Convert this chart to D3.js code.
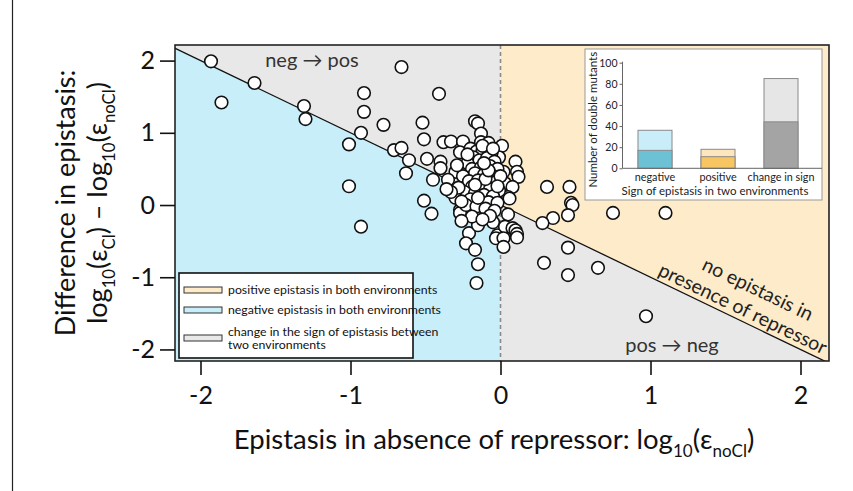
<!DOCTYPE html>
<html>
<head>
<meta charset="utf-8">
<script src="https://cdn.jsdelivr.net/npm/d3@7"></script>
<style>
  body { margin: 0; background: #fff; }
  svg { display: block; font-family: Lato, "Open Sans", sans-serif; }
</style>
</head>
<body>
<svg id="chart" width="853" height="491"></svg>
<script>
// --- data ---------------------------------------------------------------
// [log10(eps_noCl), log10(eps_Cl) - log10(eps_noCl)]
const scatterPoints = [
  [-1.93, 1.99], [-1.86, 1.42], [-1.64, 1.69], [-1.31, 1.37], [-1.30, 1.19],
  [-0.91, 1.55], [-0.91, 1.29], [-0.78, 1.11], [-0.93, 1.00], [-1.01, 0.84],
  [-0.71, 0.76], [-0.66, 0.79], [-0.66, 1.91], [-0.41, 1.54], [-0.52, 1.14],
  [-0.51, 0.91], [-0.17, 1.16], [-0.15, 1.13], [-0.13, 0.99], [-0.38, 0.87],
  [-0.33, 0.88], [-0.25, 0.88], [-0.13, 0.87], [-0.08, 0.86], [0.01, 0.82],
  [-0.61, 0.62], [-0.49, 0.64], [-0.40, 0.60], [-0.40, 0.51], [-0.30, 0.46],
  [-0.27, 0.73], [-0.23, 0.53], [-0.63, 0.44], [-0.45, 0.35], [-0.35, 0.35],
  [-1.01, 0.26], [-0.93, -0.30], [-0.51, 0.06], [-0.46, -0.12],
  [-0.01, 0.66], [0.02, 0.46], [0.10, 0.60], [0.11, 0.46], [0.12, 0.39],
  [0.03, 0.30], [0.08, 0.25], [0.05, 0.11], [0.06, 0.09], [0.31, 0.25],
  [0.46, 0.25], [0.47, 0.03], [0.48, 0.00], [0.45, -0.14], [0.35, -0.18],
  [0.28, -0.25], [0.75, -0.11], [1.10, -0.11], [0.45, -0.59], [0.29, -0.80],
  [0.45, -0.97], [0.65, -0.87], [0.97, -1.54],
  [-0.27, -0.07], [-0.27, -0.11], [-0.21, -0.39], [-0.05, -0.24], [-0.02, -0.42],
  [0.05, -0.13], [0.03, -0.30], [0.08, -0.32], [0.10, -0.35], [0.11, -0.40],
  [0.11, -0.45], [-0.15, -0.28], [-0.23, -0.53], [-0.17, -0.62], [-0.15, -0.82],
  [-0.16, -1.08], [-0.03, -0.46], [0.02, -0.46], [0.02, -0.58],
  [-0.20, 0.78], [-0.16, 0.74], [-0.12, 0.76], [-0.06, 0.72], [-0.18, 0.66],
  [-0.14, 0.62], [-0.09, 0.65], [-0.04, 0.60], [-0.22, 0.58], [-0.19, 0.50],
  [-0.13, 0.52], [-0.07, 0.54], [-0.02, 0.50], [-0.17, 0.44], [-0.11, 0.42],
  [-0.05, 0.40], [-0.25, 0.40], [-0.21, 0.33], [-0.15, 0.34], [-0.09, 0.30],
  [-0.03, 0.32], [-0.19, 0.25], [-0.13, 0.24], [-0.07, 0.22], [-0.01, 0.20],
  [-0.24, 0.18], [-0.17, 0.16], [-0.11, 0.14], [-0.05, 0.12], [-0.20, 0.08],
  [-0.14, 0.06], [-0.08, 0.04], [-0.02, 0.03], [-0.23, 0.00], [-0.16, -0.02],
  [-0.10, -0.05], [-0.04, -0.08], [-0.30, 0.10], [-0.28, 0.24], [-0.33, 0.18],
  [-0.12, 0.82], [-0.22, 0.70], [-0.05, 0.78], [-0.10, 0.36], [-0.15, 0.10],
  [-0.07, -0.15], [-0.19, -0.16], [-0.12, -0.20], [-0.26, -0.22], [0.00, 0.40],
  [-0.36, 0.22], [-0.29, 0.55], [-0.02, 0.26], [-0.17, 0.28], [-0.08, 0.48],
  [-0.26, 0.05], [-0.11, 0.58]
];

const axisTicks = [-2, -1, 0, 1, 2];

const legendLabels = [
  ["positive epistasis in both environments"],
  ["negative epistasis in both environments"],
  ["change in the sign of epistasis between", "two environments"]
];

const insetCategories = ["negative", "positive", "change in sign"];
const insetTotals = [36, 18, 85];
const insetLower = [17, 11, 44];
const insetTicks = [0, 20, 40, 60, 80, 100];

// --- setup --------------------------------------------------------------
const svg = d3.select("#chart");

const colPos = "#fdebc9";
const colNeg = "#c8eef9";
const colChange = "#e8e8e8";

const plot = { left: 175, right: 829, top: 45, bottom: 361 };

const x = d3.scaleLinear().domain([-2.17, 2.19]).range([plot.left, plot.right]);
const y = d3.scaleLinear().domain([-2.16, 2.216]).range([plot.bottom, plot.top]);

// frame line at the left of the figure
svg.append("line")
  .attr("x1", 12.5).attr("x2", 12.5)
  .attr("y1", 0).attr("y2", 491)
  .attr("stroke", "#222").attr("stroke-width", 1.2);

svg.append("clipPath").attr("id", "plot-clip")
  .append("rect")
  .attr("x", plot.left).attr("y", plot.top)
  .attr("width", plot.right - plot.left)
  .attr("height", plot.bottom - plot.top);

const area = svg.append("g").attr("clip-path", "url(#plot-clip)");

// regions (in data coordinates, clipped to the plot)
const regions = [
  { fill: colNeg, pts: [[-10, -10], [0, -10], [0, 0], [-10, 10]] },
  { fill: colChange, pts: [[-10, 10], [0, 0], [0, 10]] },
  { fill: colPos, pts: [[0, 0], [10, -10], [10, 10], [0, 10]] },
  { fill: colChange, pts: [[0, 0], [0, -10], [10, -10]] }
];

area.selectAll(".region")
  .data(regions)
  .enter()
  .append("polygon")
  .attr("class", "region")
  .attr("fill", d => d.fill)
  .attr("points", d => d.pts.map(p => [x(p[0]), y(p[1])].join(",")).join(" "));

// vertical dashed line at zero
area.append("line")
  .attr("x1", x(0)).attr("x2", x(0))
  .attr("y1", plot.top).attr("y2", plot.bottom)
  .attr("stroke", "#8a8a8a")
  .attr("stroke-width", 1.6)
  .attr("stroke-dasharray", "4,3");

// no epistasis with repressor: y = -x
area.append("line")
  .attr("x1", x(-3)).attr("y1", y(3))
  .attr("x2", x(3)).attr("y2", y(-3))
  .attr("stroke", "#111")
  .attr("stroke-width", 1.3);

// points
area.selectAll(".pt")
  .data(scatterPoints)
  .enter()
  .append("circle")
  .attr("class", "pt")
  .attr("cx", d => x(d[0]))
  .attr("cy", d => y(d[1]))
  .attr("r", 6.3)
  .attr("fill", "#fff")
  .attr("stroke", "#111")
  .attr("stroke-width", 1.6);

// region annotations
const angle = Math.atan2(y(-1) - y(0), x(1) - x(0)) * 180 / Math.PI;

svg.append("text")
  .attr("x", 312).attr("y", 67)
  .attr("text-anchor", "middle")
  .attr("font-size", 20)
  .attr("fill", "#333")
  .text("neg \u2192 pos");

svg.append("text")
  .attr("x", 672).attr("y", 352)
  .attr("text-anchor", "middle")
  .attr("font-size", 20)
  .attr("fill", "#333")
  .text("pos \u2192 neg");

const diagLabel = svg.append("g")
  .attr("transform", `translate(${x(1.6)},${y(-1.6)}) rotate(${angle})`);

diagLabel.append("text")
  .attr("x", 2).attr("y", -29)
  .attr("text-anchor", "middle")
  .attr("font-size", 19.5)
  .attr("fill", "#222")
  .text("no epistasis in");

diagLabel.append("text")
  .attr("x", -3).attr("y", -5)
  .attr("text-anchor", "middle")
  .attr("font-size", 19.5)
  .attr("fill", "#222")
  .text("presence of repressor");

// plot border
svg.append("rect")
  .attr("x", plot.left).attr("y", plot.top)
  .attr("width", plot.right - plot.left)
  .attr("height", plot.bottom - plot.top)
  .attr("fill", "none")
  .attr("stroke", "#222")
  .attr("stroke-width", 1.6);

// axes
const xAxis = svg.append("g")
  .attr("transform", `translate(0,${plot.bottom})`)
  .call(d3.axisBottom(x).tickValues(axisTicks).tickFormat(d => String(d)).tickSize(14).tickPadding(11));

const yAxis = svg.append("g")
  .attr("transform", `translate(${plot.left},0)`)
  .call(d3.axisLeft(y).tickValues(axisTicks).tickFormat(d => String(d)).tickSize(15).tickPadding(5));

[xAxis, yAxis].forEach(a => {
  a.select(".domain").remove();
  a.selectAll(".tick line").attr("stroke", "#111").attr("stroke-width", 1.6);
  a.selectAll(".tick text")
    .attr("font-family", "Lato, 'Open Sans', sans-serif")
    .attr("font-size", 25)
    .attr("fill", "#111");
});

// text with subscripts: parts = [[string, isSub], ...]
function richText(sel, parts, size) {
  const subSize = size * 0.62;
  let down = false;
  parts.forEach(([s, sub]) => {
    const t = sel.append("tspan").text(s);
    if (sub) {
      t.attr("font-size", subSize).attr("dy", down ? 0 : size * 0.28);
      down = true;
    } else {
      t.attr("font-size", size).attr("dy", down ? -size * 0.28 : 0);
      down = false;
    }
  });
}

// x title
const xTitle = svg.append("text")
  .attr("x", 494).attr("y", 449)
  .attr("text-anchor", "middle")
  .attr("fill", "#111");
richText(xTitle, [
  ["Epistasis in absence of repressor: log", false], ["10", true],
  ["(\u03b5", false], ["noCl", true], [")", false]
], 27.5);

// y title (two lines)
const yTitle = svg.append("g")
  .attr("transform", `translate(0,${y(0) - 2}) rotate(-90)`);

yTitle.append("text")
  .attr("x", 0).attr("y", 75)
  .attr("text-anchor", "middle")
  .attr("font-size", 27)
  .attr("fill", "#111")
  .text("Difference in epistasis:");

const yTitle2 = yTitle.append("text")
  .attr("x", 0).attr("y", 107)
  .attr("text-anchor", "middle")
  .attr("fill", "#111");
richText(yTitle2, [
  ["log", false], ["10", true], ["(\u03b5", false], ["Cl", true],
  [") \u2013 log", false], ["10", true], ["(\u03b5", false], ["noCl", true], [")", false]
], 27);

// --- legend ---------------------------------------------------------------
const legendColors = [colPos, colNeg, colChange];
const legend = svg.append("g").attr("transform", "translate(179,273)");

legend.append("rect")
  .attr("width", 234).attr("height", 85)
  .attr("fill", "#fff")
  .attr("stroke", "#111")
  .attr("stroke-width", 1.6);

const legendRows = legend.selectAll(".lg")
  .data(legendLabels)
  .enter()
  .append("g")
  .attr("class", "lg")
  .attr("transform", (d, i) => `translate(0,${[17, 37, 65][i]})`);

legendRows.append("rect")
  .attr("x", 5).attr("y", -3)
  .attr("width", 38).attr("height", 6)
  .attr("fill", (d, i) => legendColors[i])
  .attr("stroke", "#333")
  .attr("stroke-width", 1);

legendRows.append("text")
  .attr("x", 49)
  .attr("font-size", 12.3)
  .attr("fill", "#111")
  .each(function (d) {
    const t = d3.select(this);
    const off = d.length > 1 ? -6.5 : 0;
    d.forEach((line, j) => {
      t.append("tspan")
        .attr("x", 49)
        .attr("y", off + j * 13.5 + 4)
        .text(line);
    });
  });

// --- inset bar chart -------------------------------------------------------
const inset = svg.append("g");
inset.append("rect")
  .attr("x", 585).attr("y", 49)
  .attr("width", 237).attr("height", 151)
  .attr("fill", "#fff")
  .attr("stroke", "#999")
  .attr("stroke-width", 1);

const ix = d3.scaleBand()
  .domain(insetCategories)
  .range([623.5, 812.5])
  .paddingInner(0.46)
  .paddingOuter(0.23);

const iy = d3.scaleLinear().domain([0, 100]).range([168.3, 62.7]);

const insetLight = ["#c9eef9", "#fde6bd", "#e6e6e6"];
const insetDark = ["#6cc1d5", "#f7c561", "#a4a4a4"];

inset.selectAll(".bar-total")
  .data(insetCategories)
  .enter()
  .append("rect")
  .attr("x", d => ix(d))
  .attr("y", (d, i) => iy(insetTotals[i]))
  .attr("width", ix.bandwidth())
  .attr("height", (d, i) => iy(0) - iy(insetTotals[i]))
  .attr("fill", (d, i) => insetLight[i])
  .attr("stroke", "#8a8a8a")
  .attr("stroke-width", 1);

inset.selectAll(".bar-lower")
  .data(insetCategories)
  .enter()
  .append("rect")
  .attr("x", d => ix(d))
  .attr("y", (d, i) => iy(insetLower[i]))
  .attr("width", ix.bandwidth())
  .attr("height", (d, i) => iy(0) - iy(insetLower[i]))
  .attr("fill", (d, i) => insetDark[i])
  .attr("stroke", "#8a8a8a")
  .attr("stroke-width", 1);

const iyAxis = inset.append("g")
  .attr("transform", "translate(622.5,0)")
  .call(d3.axisLeft(iy).tickValues(insetTicks).tickSize(3).tickPadding(2));
iyAxis.select(".domain").attr("stroke", "#666").attr("d", `M0,${iy(100) - 1}V${iy(0)}`);
iyAxis.selectAll(".tick line").attr("stroke", "#666");
iyAxis.selectAll(".tick text")
  .attr("font-family", "Lato, 'Open Sans', sans-serif")
  .attr("font-size", 10.5)
  .attr("fill", "#222");

inset.append("line")
  .attr("x1", 622.5).attr("x2", 822)
  .attr("y1", iy(0)).attr("y2", iy(0))
  .attr("stroke", "#666").attr("stroke-width", 1);

inset.selectAll(".cat")
  .data(insetCategories)
  .enter()
  .append("text")
  .attr("x", d => ix(d) + ix.bandwidth() / 2)
  .attr("y", 181)
  .attr("text-anchor", "middle")
  .attr("font-size", 10.8)
  .attr("fill", "#222")
  .text(d => d);

inset.append("text")
  .attr("x", 715).attr("y", 195)
  .attr("text-anchor", "middle")
  .attr("font-size", 11.5)
  .attr("fill", "#222")
  .text("Sign of epistasis in two environments");

inset.append("text")
  .attr("transform", `translate(597,${iy(46)}) rotate(-90)`)
  .attr("text-anchor", "middle")
  .attr("font-size", 11.5)
  .attr("fill", "#222")
  .text("Number of double mutants");
</script>
</body>
</html>
